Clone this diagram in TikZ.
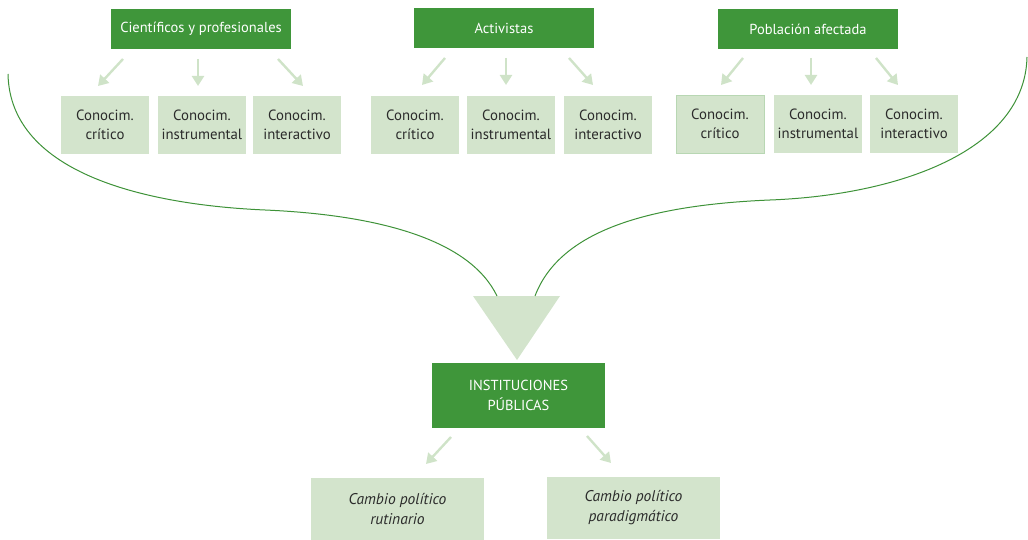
\documentclass[tikz,border=0pt]{standalone}
\usepackage{fontspec}
\setmainfont{PT Sans}
\usetikzlibrary{arrows.meta}
\definecolor{dkgreen}{HTML}{3F963A}
\definecolor{ltgreen}{HTML}{D3E4CC}
\definecolor{arrgreen}{HTML}{CFE3C8}
\definecolor{curvegreen}{HTML}{3E9238}
\definecolor{txt}{HTML}{2B2B2B}
\begin{document}
\begin{tikzpicture}[x=1pt,y=-1pt,
  actor/.style={fill=dkgreen,text=white,minimum width=180pt,minimum height=40pt,inner sep=0pt,font=\fontsize{14.5}{17}\selectfont},
  know/.style={fill=ltgreen,text=txt,minimum width=88pt,minimum height=58pt,inner sep=0pt,align=center,font=\fontsize{14.8}{19}\selectfont},
  outcome/.style={fill=ltgreen,text=txt,minimum width=173pt,minimum height=62pt,inner sep=0pt,align=center,font=\fontsize{15.5}{20}\selectfont\itshape},
  flow/.style={draw=arrgreen,line width=2.4pt,-{Triangle[width=12pt,length=10pt]}},
  merge/.style={draw=curvegreen,line width=1pt}]
\useasboundingbox (0,0) rectangle (1028,540);

% source groups
\node[actor] (d1) at (201,29) {Científicos y profesionales};
\node[actor] (d2) at (504,28) {Activistas};
\node[actor] (d3) at (808,29) {Población afectada};

% knowledge types
\node[know] (k11) at (105,125) {Conocim.\\crítico};
\node[know] (k12) at (202,125) {Conocim.\\instrumental};
\node[know] (k13) at (297,125) {Conocim.\\interactivo};
\node[know] (k21) at (415,125) {Conocim.\\crítico};
\node[know] (k22) at (511,125) {Conocim.\\instrumental};
\node[know] (k23) at (608,125) {Conocim.\\interactivo};
\node[know,draw=ltgreen!70!dkgreen!80,line width=0.6pt] (k31) at (720,124) {Conocim.\\crítico};
\node[know] (k32) at (818,124) {Conocim.\\instrumental};
\node[know] (k33) at (914,124) {Conocim.\\interactivo};

% arrow ends between actor and knowledge boxes
\foreach \n/\xs/\ys/\xe/\ye in {
    11/123/59/98/86, 12/198/59/198/86, 13/278/59/303/86,
    21/445/58/422/85, 22/506/58/506/85, 23/569/58/593/85,
    31/743/58/721/85, 32/811/58/811/85, 33/876/58/898/85}{
  \coordinate (a\n s) at (\xs,\ys);
  \coordinate (a\n e) at (\xe,\ye);
}
\foreach \n in {11,12,13,21,22,23,31,32,33}{
  \draw[flow] (a\n s) -- (a\n e);
}

% merging funnel
\coordinate (tl) at (473,296);
\coordinate (tr) at (560,296);
\coordinate (tip) at (517,360);
\fill[ltgreen] (tl) -- (tr) -- (tip) -- cycle;
\coordinate (lin) at (497,296);
\coordinate (rin) at (535,296);
\coordinate (lstart) at (8,74);
\coordinate (rstart) at (1027,57);
\draw[merge] (lstart) .. controls (10,175) and (150,205) .. (265,210)
  .. controls (380,215) and (470,240) .. (lin);
\draw[merge] (rstart) .. controls (1025,150) and (900,195) .. (770,200)
  .. controls (650,205) and (560,230) .. (rin);

% institutions
\node[actor,minimum width=173pt,minimum height=65pt,align=center,font=\fontsize{14.5}{20}\selectfont] (inst) at (518.5,395.5) {INSTITUCIONES\\PÚBLICAS};

% outcomes
\node[outcome] (c1) at (397.5,509) {Cambio político\\rutinario};
\node[outcome] (c2) at (633.5,508) {Cambio político\\paradigmático};

\coordinate (b1s) at (451,437); \coordinate (b1e) at (426,464);
\coordinate (b2s) at (587,436); \coordinate (b2e) at (611,463);
\draw[flow] (b1s) -- (b1e);
\draw[flow] (b2s) -- (b2e);
\end{tikzpicture}
\end{document}
